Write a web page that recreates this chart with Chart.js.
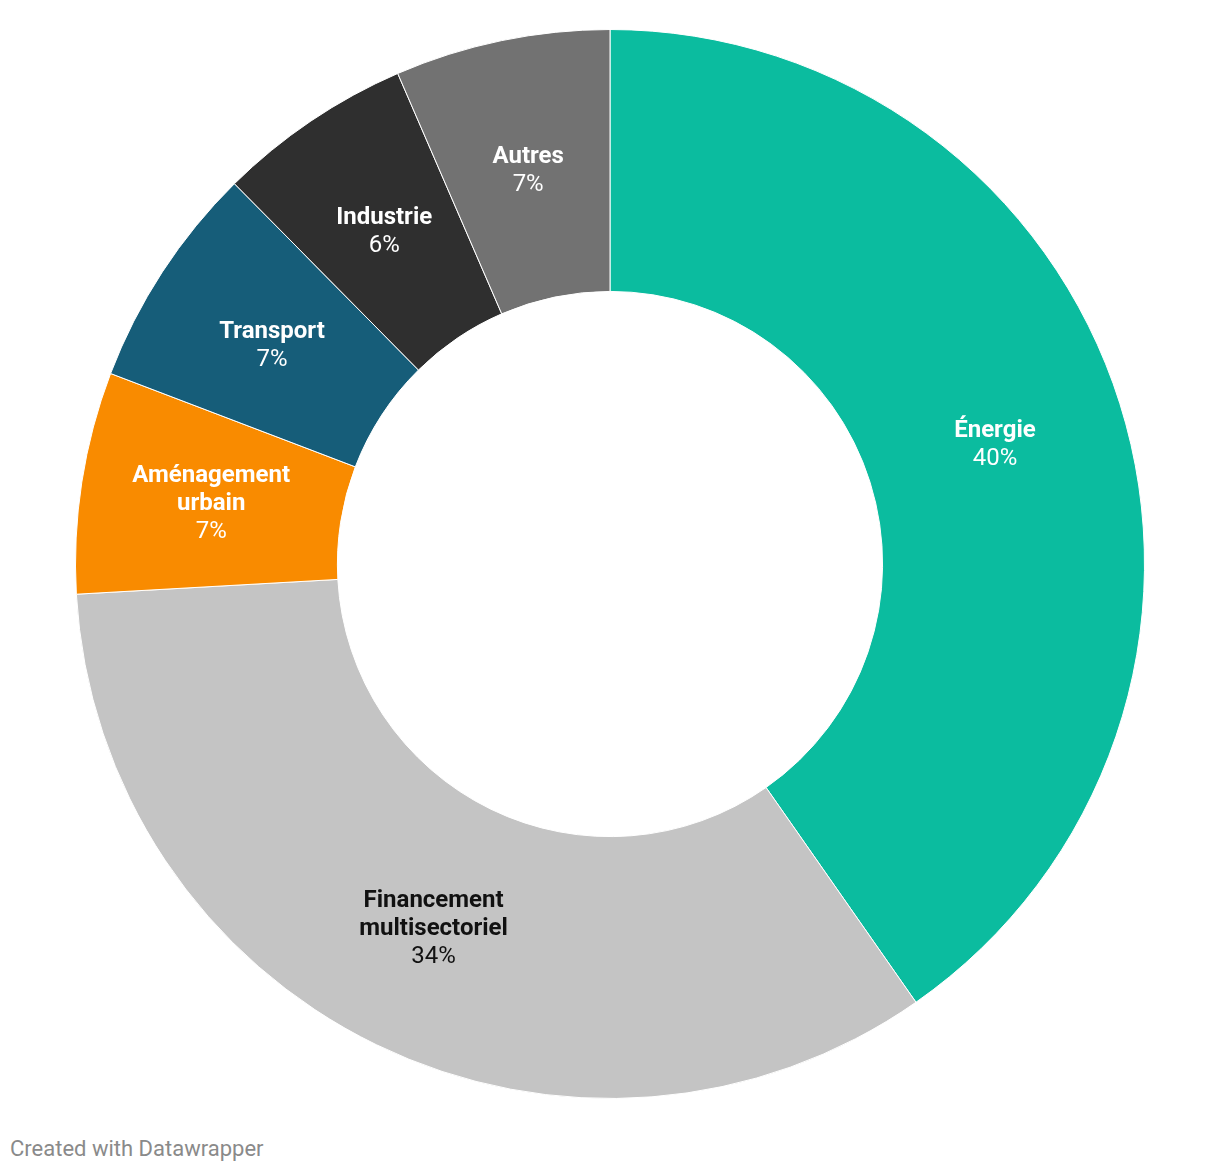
<!DOCTYPE html>
<html>
<head>
<meta charset="utf-8">
<script src="https://cdn.jsdelivr.net/npm/chart.js@4"></script>
<style>
  html, body { margin: 0; padding: 0; background: #fff; }
  body { width: 1220px; height: 1174px; position: relative; font-family: Roboto, sans-serif; }
  #wrap { position: absolute; left: 0; top: 0; width: 1220px; height: 1128px; }
  #footer { position: absolute; left: 10px; top: 1136px; font-size: 22px; color: #8a8a8a; }
</style>
</head>
<body>
<div id="wrap"><canvas id="myChart"></canvas></div>
<div id="footer">Created with Datawrapper</div>
<script>
const categories = ['Énergie', 'Financement multisectoriel', 'Aménagement urbain', 'Transport', 'Industrie', 'Autres'];
const shares = [40.3, 33.8, 6.7, 6.8, 5.9, 6.5];
const sliceColors = ['#0bbc9f', '#c4c4c4', '#f98b00', '#165d79', '#2f2f2f', '#727272'];
const labelColors = ['#fff', '#111', '#fff', '#fff', '#fff', '#fff'];

// draws name (bold, wrapped) + rounded percent in the middle of each slice
const sliceLabels = {
    id: 'sliceLabels',
    afterDatasetsDraw(chart) {
        const ctx = chart.ctx;
        const meta = chart.getDatasetMeta(0);
        ctx.save();
        ctx.textAlign = 'center';
        ctx.textBaseline = 'middle';
        meta.data.forEach((arc, i) => {
            const pos = arc.getCenterPoint();
            ctx.font = 'bold 24px Roboto';
            let lines = [categories[i]];
            if (ctx.measureText(categories[i]).width > 190) {
                lines = categories[i].split(' ');
            }
            const all = lines.concat([Math.round(shares[i]) + '%']);
            const lh = 28;
            const top = pos.y + 2 - (all.length - 1) * lh / 2;
            ctx.fillStyle = labelColors[i];
            all.forEach((txt, j) => {
                ctx.font = (j < lines.length ? 'bold ' : '') + '24px Roboto';
                ctx.fillText(txt, pos.x, top + j * lh);
            });
        });
        ctx.restore();
    }
};

const ctx = document.getElementById('myChart').getContext('2d');
const chart = new Chart(ctx, {
    type: 'doughnut',
    data: {
        labels: categories,
        datasets: [{
            data: shares,
            backgroundColor: sliceColors,
            borderColor: '#fff',
            borderWidth: 1,
            hoverOffset: 0
        }]
    },
    options: {
        responsive: true,
        maintainAspectRatio: false,
        animation: false,
        cutout: '51%',
        layout: { padding: { top: 29, bottom: 29 } },
        plugins: {
            legend: { display: false },
            tooltip: { enabled: false }
        }
    },
    plugins: [sliceLabels]
});
</script>
</body>
</html>
